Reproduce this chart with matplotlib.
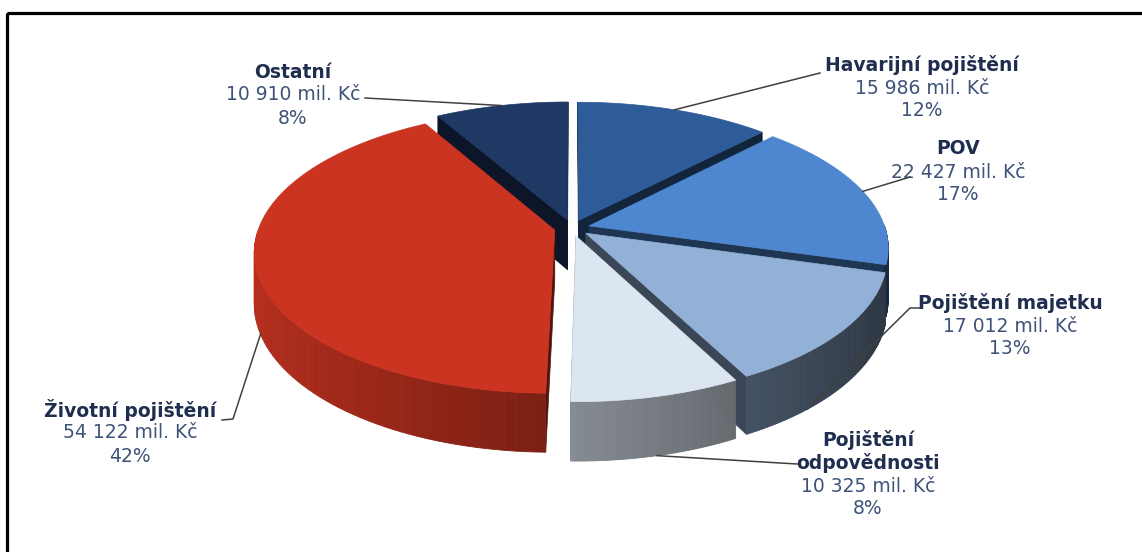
import numpy as np
import matplotlib.pyplot as plt
from matplotlib.patches import Polygon, Rectangle
from matplotlib.colors import to_rgb

# data (clockwise from 12 o'clock)
names = ['Havarijní pojištění', 'POV', 'Pojištění majetku',
         'Pojištění\nodpovědnosti', 'Životní pojištění', 'Ostatní']
values = [15986, 22427, 17012, 10325, 54122, 10910]
pct_labels = ['12%', '17%', '13%', '8%', '42%', '8%']
top_colors = ['#2e5c98', '#4e87cf', '#93b1d7', '#dce6f1', '#cb3421', '#1f3864']

# label layout (pixel coords: centre x, first line y), leader line text end
label_pos = [(922, 65), (958, 149), (1010, 303), (868, 440), (130, 410), (293, 72)]
leader_txt = [[(820, 73)], [(910, 177)], [(920, 308), (910, 308)],
              [(797, 464)], [(222, 420), (233, 419)], [(365, 98)]]
leader_z = [0.0, 0.0, 1.0, 1.0, 1.0, 0.0]
leader_shift = [0, 0, 10, 0, -6, 0]  # degrees from slice middle

W, H = 1142, 552
fig = plt.figure(figsize=(W / 100, H / 100), dpi=100)
ax = fig.add_axes([0, 0, 1, 1])
ax.set_xlim(0, W)
ax.set_ylim(H, 0)
ax.axis('off')

# pseudo 3D geometry
cx, cy, rx, ry, persp, depth, expl = 572, 228, 296, 138, 0.15, 50, 0.06


def proj(u, v, z=0.0):
    s = 1.0 / (1.0 + persp * v)
    return cx + rx * u * s, cy - ry * v * s + depth * z * s


def shade(c, f):
    r, g, b = to_rgb(c)
    return (min(r * f, 1), min(g * f, 1), min(b * f, 1))


vals = np.array(values, dtype=float)
fr = vals / vals.sum()
ends = np.cumsum(fr) * 360
starts = ends - fr * 360
mids = (starts + ends) / 2

order = sorted(range(len(vals)), key=lambda i: -np.cos(np.radians(mids[i])))

for i in order:
    a0, a1, m = starts[i], ends[i], np.radians(mids[i])
    du, dv = expl * np.sin(m), expl * np.cos(m)
    col = top_colors[i]
    # radial side faces
    for a, sgn in [(a0, -1), (a1, 1)]:
        if np.cos(np.radians(a + sgn * 90)) < 0.02:
            ar = np.radians(a)
            pts = [proj(du, dv, 0), proj(du + np.sin(ar), dv + np.cos(ar), 0),
                   proj(du + np.sin(ar), dv + np.cos(ar), 1), proj(du, dv, 1)]
            fc = shade(col, 0.4)
            ax.add_patch(Polygon(pts, closed=True, fc=fc, ec=fc, lw=0.5))
    # outer wall
    th = np.radians(np.linspace(a0, a1, 90))
    for j in range(len(th) - 1):
        tm = (th[j] + th[j + 1]) / 2
        if np.cos(tm) >= 0:
            continue
        u0, v0 = du + np.sin(th[j]), dv + np.cos(th[j])
        u1, v1 = du + np.sin(th[j + 1]), dv + np.cos(th[j + 1])
        pts = [proj(u0, v0, 0), proj(u1, v1, 0), proj(u1, v1, 1), proj(u0, v0, 1)]
        fc = shade(col, 0.6 + 0.3 * (-np.sin(tm)))
        ax.add_patch(Polygon(pts, closed=True, fc=fc, ec=fc, lw=0.6))
    # top face
    pts = [proj(du, dv)] + [proj(du + np.sin(t), dv + np.cos(t)) for t in th]
    ax.add_patch(Polygon(pts, closed=True, fc=col, ec=col, lw=0.5))

# labels and leader lines
name_col = '#1f2d4f'
val_col = '#3f5378'
lh = 23
for i in range(len(vals)):
    x, y = label_pos[i]
    lines = names[i].split('\n')
    for n, t in enumerate(lines):
        ax.text(x, y + n * lh, t, ha='center', va='center', fontsize=13.5,
                fontweight='bold', color=name_col)
    y2 = y + len(lines) * lh
    vtxt = f"{values[i]:,}".replace(',', ' ') + ' mil. Kč'
    ax.text(x, y2, vtxt, ha='center', va='center', fontsize=13.5, color=val_col)
    ax.text(x, y2 + lh, pct_labels[i], ha='center', va='center', fontsize=13.5,
            color=val_col)

    m = np.radians(mids[i])
    du, dv = expl * np.sin(m), expl * np.cos(m)
    am = np.radians(mids[i] + leader_shift[i])
    anchor = proj(du + np.sin(am), dv + np.cos(am), leader_z[i])
    pts = leader_txt[i] + [anchor]
    ax.plot([p[0] for p in pts], [p[1] for p in pts], color='#404040', lw=1.1,
            zorder=5)

# outer frame
ax.add_patch(Rectangle((7, 13), 1300, 700, fill=False, ec='black', lw=2.3))

fig.savefig('out.png', dpi=100)
